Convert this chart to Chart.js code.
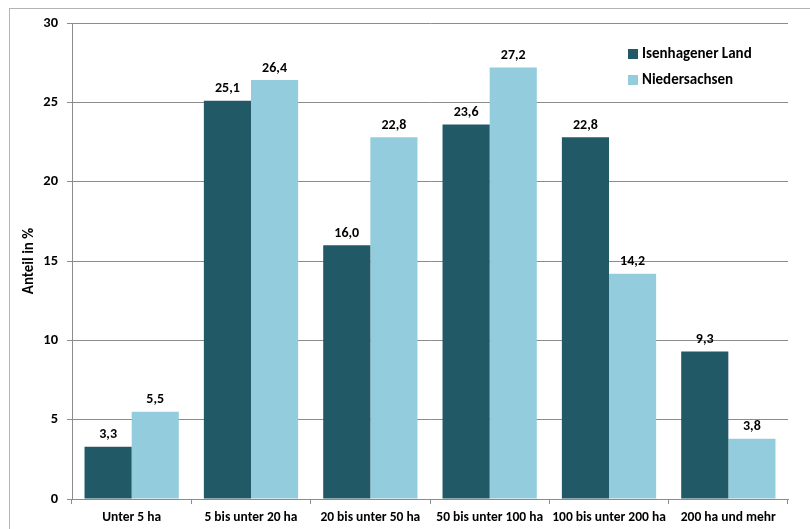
<!DOCTYPE html>
<html>
<head>
<meta charset="utf-8">
<script src="https://cdn.jsdelivr.net/npm/chart.js@4/dist/chart.umd.min.js"></script>
<style>
  html, body { margin: 0; padding: 0; background: #fff; }
  #wrap { width: 810px; height: 529px; position: relative; }
</style>
</head>
<body>
<div id="wrap"><canvas id="c" width="810" height="529"></canvas></div>
<script>
// Betriebsgrößenklassen nach landwirtschaftlich genutzter Fläche
const categories = ['Unter 5 ha', '5 bis unter 20 ha', '20 bis unter 50 ha', '50 bis unter 100 ha', '100 bis unter 200 ha', '200 ha und mehr'];
const isenhagenerLand = [3.3, 25.1, 16.0, 23.6, 22.8, 9.3];
const niedersachsen = [5.5, 26.4, 22.8, 27.2, 14.2, 3.8];
const yTicks = [0, 5, 10, 15, 20, 25, 30];
const seriesNames = ['Isenhagener Land', 'Niedersachsen'];
const yTitle = 'Anteil in %';

const FONT = 'Carlito, "Liberation Sans Narrow", "Liberation Sans", Arial, sans-serif';
const DARK = '#215967';
const LIGHT = '#93CDDD';
const GRID = '#8c8c8c';

const decoPlugin = {
  id: 'deco',
  beforeDraw(chart) {
    const ctx = chart.ctx;
    ctx.save();
    ctx.fillStyle = '#fff';
    ctx.fillRect(0, 0, chart.width, chart.height);
    // outer frame
    ctx.strokeStyle = '#b4b4b4';
    ctx.lineWidth = 1;
    ctx.strokeRect(9.5, 8.5, chart.width + 10, chart.height + 10);
    ctx.restore();
  },
  afterDatasetsDraw(chart) {
    const ctx = chart.ctx;
    ctx.save();
    // value labels above the bars
    ctx.font = 'bold 14px ' + FONT;
    ctx.fillStyle = '#000';
    ctx.textAlign = 'center';
    ctx.textBaseline = 'middle';
    chart.data.datasets.forEach((ds, di) => {
      const meta = chart.getDatasetMeta(di);
      meta.data.forEach((bar, i) => {
        const txt = ds.data[i].toFixed(1).replace('.', ',');
        ctx.fillText(txt, bar.x, bar.y - 12);
      });
    });
    // y-axis title
    ctx.save();
    ctx.translate(29, 261);
    ctx.rotate(-Math.PI / 2);
    ctx.font = 'bold 15px ' + FONT;
    ctx.fillText(yTitle, 0, 0);
    ctx.restore();
    // legend
    ctx.textAlign = 'left';
    ctx.font = 'bold 15px ' + FONT;
    chart.data.datasets.forEach((ds, di) => {
      const y = 49 + di * 26;
      ctx.fillStyle = ds.backgroundColor;
      ctx.fillRect(628, y, 10, 10);
      ctx.fillStyle = '#000';
      ctx.fillText(ds.label, 642, y + 5);
    });
    ctx.restore();
  }
};

new Chart(document.getElementById('c'), {
  type: 'bar',
  data: {
    labels: categories,
    datasets: [
      { label: seriesNames[0], data: isenhagenerLand, backgroundColor: DARK },
      { label: seriesNames[1], data: niedersachsen, backgroundColor: LIGHT }
    ]
  },
  options: {
    responsive: false,
    animation: false,
    devicePixelRatio: 1,
    layout: { padding: { left: 0, right: 22, top: 23, bottom: 0 } },
    datasets: { bar: { categoryPercentage: 0.79, barPercentage: 1.0 } },
    plugins: { legend: { display: false }, tooltip: { enabled: false } },
    scales: {
      x: {
        afterFit(s) { s.height = 30; },
        grid: { display: true, drawOnChartArea: false, drawTicks: true, tickLength: 5, color: GRID, offset: true },
        border: { color: GRID },
        ticks: { color: '#000', font: { family: FONT, size: 13.5, weight: 'bold' }, padding: 6, maxRotation: 0, autoSkip: false }
      },
      y: {
        min: 0, max: 30,
        afterFit(s) { s.width = 72; },
        afterBuildTicks(s) { s.ticks = yTicks.map(v => ({ value: v })); },
        grid: { color: GRID, tickLength: 5 },
        border: { color: GRID },
        ticks: { color: '#000', font: { family: FONT, size: 14.5, weight: 'bold' }, padding: 9 }
      }
    }
  },
  plugins: [decoPlugin]
});
</script>
</body>
</html>
